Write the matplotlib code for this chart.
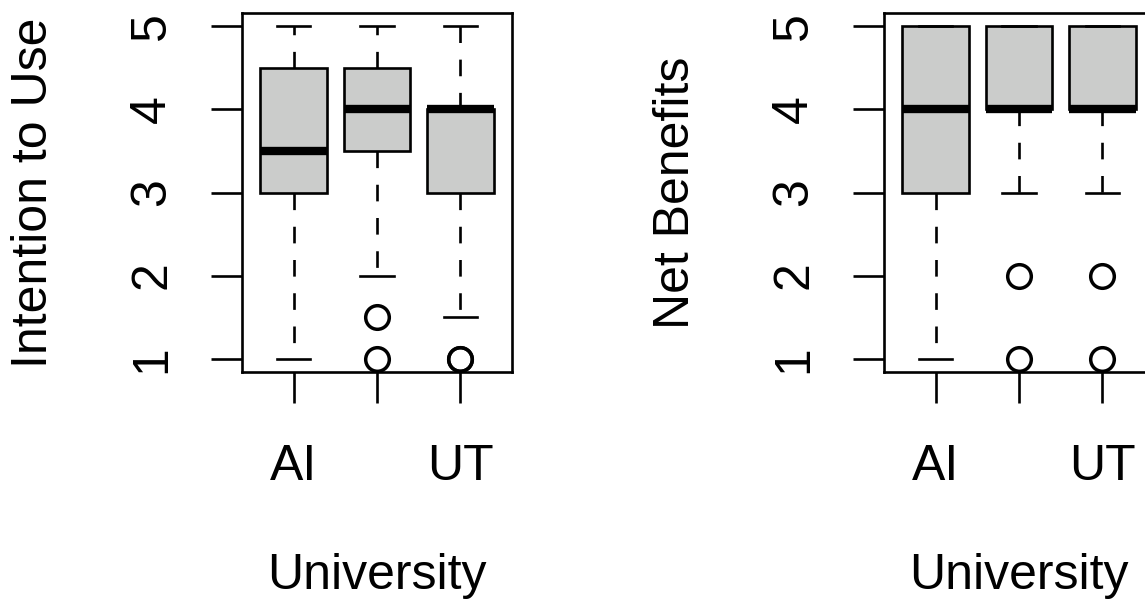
import matplotlib
matplotlib.use("Agg")
import matplotlib.pyplot as plt

plt.rcParams['font.family'] = ['Liberation Sans', 'DejaVu Sans']

# Box statistics (one entry per university)
universities = ['AI', '', 'UT']

# Intention to Use
itu_whislo = [1, 2, 1.5]
itu_q1 = [3, 3.5, 3]
itu_med = [3.5, 4, 4]
itu_q3 = [4.5, 4.5, 4]
itu_whishi = [5, 5, 5]
itu_fliers = [[], [1.5, 1], [1, 1]]

# Net Benefits
nb_whislo = [1, 3, 3]
nb_q1 = [3, 4, 4]
nb_med = [4, 4, 4]
nb_q3 = [5, 5, 5]
nb_whishi = [5, 5, 5]
nb_fliers = [[], [2, 1], [2, 1]]

LW = 1.9


def make_stats(whislo, q1, med, q3, whishi, fliers):
    return [dict(whislo=a, q1=b, med=c, q3=d, whishi=e, fliers=f)
            for a, b, c, d, e, f in zip(whislo, q1, med, q3, whishi, fliers)]


def r_boxplot(ax, stats, ylabel):
    ax.bxp(stats, positions=[1, 2, 3], widths=0.8, patch_artist=True,
           showfliers=True,
           boxprops=dict(facecolor='#cbcccb', edgecolor='black', linewidth=LW),
           medianprops=dict(color='black', linewidth=6, solid_capstyle='butt'),
           whiskerprops=dict(color='black', linewidth=LW, linestyle=(0, (6.3, 6.3))),
           capprops=dict(color='black', linewidth=LW),
           capwidths=0.4,
           flierprops=dict(marker='o', markerfacecolor='none', markeredgecolor='black',
                           markersize=17, markeredgewidth=2.5, linestyle='none'))
    ax.set_xlim(0.38, 3.62)
    ax.set_ylim(0.84, 5.16)
    ax.set_yticks([1, 2, 3, 4, 5])
    ax.set_yticklabels(['1', '2', '3', '4', '5'])
    ax.set_xticks([1, 2, 3])
    ax.set_xticklabels(universities)
    for lab in ax.get_yticklabels():
        lab.set_rotation(90)
        lab.set_va('center')
    for s in ax.spines.values():
        s.set_linewidth(LW)
    ax.tick_params(axis='both', length=22, width=LW, labelsize=36)
    ax.tick_params(axis='x', pad=30)
    ax.tick_params(axis='y', pad=26)
    ax.set_xlabel('University', fontsize=36, labelpad=45)
    ax.set_ylabel(ylabel, fontsize=36, labelpad=52)


fig = plt.figure(figsize=(11.45, 6.12), dpi=100)
W, H = 1145, 612
ax1 = fig.add_axes([242 / W, 1 - 372 / H, 270 / W, 359 / H])
ax2 = fig.add_axes([884 / W, 1 - 372 / H, 270 / W, 359 / H])

r_boxplot(ax1, make_stats(itu_whislo, itu_q1, itu_med, itu_q3, itu_whishi, itu_fliers),
          'Intention to Use')
r_boxplot(ax2, make_stats(nb_whislo, nb_q1, nb_med, nb_q3, nb_whishi, nb_fliers),
          'Net Benefits')

fig.savefig('out.png', dpi=100)
